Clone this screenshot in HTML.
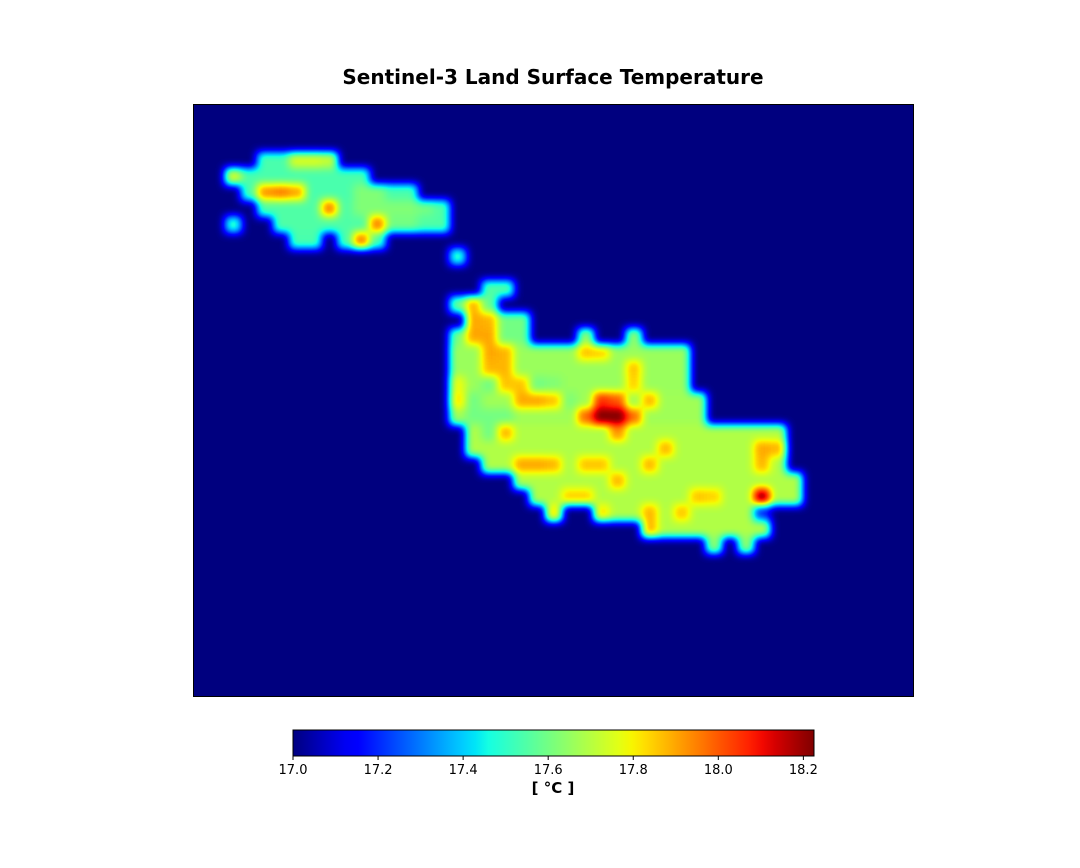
<!DOCTYPE html>
<html><head><meta charset="utf-8"><style>
body{margin:0;background:#fff;width:1080px;height:864px;overflow:hidden;font-family:"DejaVu Sans","Liberation Sans",sans-serif}
</style></head><body>
<svg id="chart" width="1080" height="864" font-family="DejaVu Sans, Liberation Sans, sans-serif">
<defs>
<filter id="jetf" x="0" y="0" width="1" height="1" color-interpolation-filters="sRGB">
<feGaussianBlur stdDeviation="4.2"/>
<feComponentTransfer id="ct"><feFuncR id="fr" type="table"/><feFuncG id="fg" type="table"/><feFuncB id="fb" type="table"/></feComponentTransfer>
</filter>
<clipPath id="pc"><rect x="193" y="104" width="721" height="593"/></clipPath>
<linearGradient id="cbg" x1="0" x2="1" y1="0" y2="0"></linearGradient>
</defs>
<text x="553" y="84" text-anchor="middle" font-size="20" font-weight="bold">Sentinel-3 Land Surface Temperature</text>
<rect x="193" y="104" width="721" height="593" fill="#000080"/>
<g clip-path="url(#pc)"><g id="heat" filter="url(#jetf)"></g></g>
<rect x="193.5" y="104.5" width="720" height="592" fill="none" stroke="#000" stroke-width="1"/>
<rect x="293" y="730" width="521" height="26" fill="url(#cbg)" stroke="#000" stroke-width="1"/>
<g id="cbticks"></g>
<text x="553" y="793" text-anchor="middle" font-size="15" font-weight="bold">[ °C ]</text>
</svg>
<script>
const vMin = 17.0, vMax = 18.225;
const nCols = 45, nRows = 37;
// land spans: [row, colStart, colEnd, value]
const landSpans = [
[3,4,8,17.54],[4,2,10,17.54],[5,3,13,17.54],[6,4,15,17.55],[7,5,15,17.55],[7,2,2,17.5],
[8,6,7,17.54],[8,9,11,17.54],[9,16,16,17.5],[11,18,19,17.55],
[12,16,18,17.58],[13,17,20,17.6],[14,16,20,17.6],[14,24,24,17.64],[14,27,27,17.64],
[15,16,30,17.66],[16,16,30,17.66],[17,17,30,17.66],[18,16,31,17.67],[19,16,31,17.67],
[20,17,36,17.69],[21,17,36,17.69],[22,18,36,17.69],[23,20,37,17.69],[24,21,37,17.69],
[25,22,22,17.64],[25,25,35,17.69],[26,28,35,17.69],[27,32,32,17.64],[27,34,34,17.64]
];
// hotspot cells: [row, col, value]
const hotspots = [
[3,6,17.75],[3,7,17.75],[3,8,17.72],[4,2,17.75],[5,4,17.92],[5,5,17.95],[5,6,17.9],
[6,8,17.95],[7,11,17.95],[8,10,17.95],
[5,10,17.62],[5,11,17.62],[6,10,17.62],[6,11,17.62],[6,12,17.62],[6,13,17.62],[6,14,17.6],[7,12,17.6],[7,13,17.6],
[12,17,17.88],[13,17,17.9],[13,18,17.88],[14,17,17.9],[14,18,17.9],[15,18,17.9],[15,19,17.88],[16,18,17.88],[16,19,17.88],
[17,19,17.86],[17,20,17.86],[18,20,17.9],[18,21,17.9],[18,22,17.86],
[18,16,17.82],[17,16,17.78],
[17,18,17.6],[17,21,17.6],[18,17,17.6],[19,17,17.6],[19,18,17.6],[19,19,17.6],[20,18,17.6],[18,23,17.62],[17,22,17.62],
[19,25,18.25],[19,26,18.25],[18,25,18.05],[18,26,18.0],[19,24,17.98],[19,27,17.98],[20,26,17.92],
[22,20,17.9],[22,21,17.9],[22,22,17.88],[21,35,17.9],[21,36,17.88],[22,35,17.88],
[24,35,18.2],[25,35,17.2],
[20,19,17.88],[18,28,17.88],[21,29,17.88],[22,28,17.88],[23,26,17.88],[22,24,17.86],[22,25,17.86],
[15,24,17.86],[15,25,17.84],[16,27,17.86],[17,27,17.84],[24,31,17.86],[24,32,17.84],[25,30,17.86],
[25,28,17.88],[26,28,17.88],[24,23,17.84],[24,24,17.84],[25,22,17.82],[25,25,17.82]
];
const tickVals = [17.0,17.2,17.4,17.6,17.8,18.0,18.2];

function jet(t){
  function seg(pts){for(let i=1;i<pts.length;i++){if(t<=pts[i][0]){const a=pts[i-1],b=pts[i];return a[1]+(b[1]-a[1])*(t-a[0])/(b[0]-a[0]);}}return pts[pts.length-1][1];}
  return [seg([[0,0],[0.35,0],[0.66,1],[0.89,1],[1,0.5]]),
          seg([[0,0],[0.125,0],[0.375,1],[0.64,1],[0.91,0],[1,0]]),
          seg([[0,0.5],[0.11,1],[0.34,1],[0.65,0],[1,0]])];
}
const NS='http://www.w3.org/2000/svg';
const px0=193, py0=104, cw=721/nCols, ch=593/nRows;
const xOf=c=>px0+c*cw, yOf=r=>py0+r*ch;
const norm=v=>Math.max(0,Math.min(1,(v-vMin)/(vMax-vMin)));
const R=[],G=[],B=[];
for(let i=0;i<=64;i++){const c=jet(i/64);R.push(c[0].toFixed(4));G.push(c[1].toFixed(4));B.push(c[2].toFixed(4));}
document.getElementById('fr').setAttribute('tableValues',R.join(' '));
document.getElementById('fg').setAttribute('tableValues',G.join(' '));
document.getElementById('fb').setAttribute('tableValues',B.join(' '));
const grid=[];for(let r=0;r<nRows;r++){grid.push(new Array(nCols).fill(vMin));}
landSpans.forEach(s=>{for(let c=s[1];c<=s[2];c++)grid[s[0]][c]=s[3];});
hotspots.forEach(h=>{grid[h[0]][h[1]]=h[2];});
const heat=document.getElementById('heat');
const bg=document.createElementNS(NS,'rect');
bg.setAttribute('x',px0-20);bg.setAttribute('y',py0-20);bg.setAttribute('width',761);bg.setAttribute('height',633);bg.setAttribute('fill','#000');


heat.appendChild(bg);
for(let r=0;r<nRows;r++)for(let c=0;c<nCols;c++){
  const v=grid[r][c]; if(v<=vMin) continue;
  const g=Math.round(norm(v)*255);
  const el=document.createElementNS(NS,'rect');
  el.setAttribute('x',xOf(c));el.setAttribute('y',yOf(r));
  el.setAttribute('width',cw+0.6);el.setAttribute('height',ch+0.6);
  el.setAttribute('fill','rgb('+g+','+g+','+g+')');
  
  
  heat.appendChild(el);
}
const grad=document.getElementById('cbg');
for(let i=0;i<=40;i++){const c=jet(i/40);const st=document.createElementNS(NS,'stop');
  st.setAttribute('offset',(i/40));st.setAttribute('stop-color','rgb('+c.map(x=>Math.round(x*255)).join(',')+')');grad.appendChild(st);}
const cbX=v=>293+(v-vMin)/(vMax-vMin)*521;
const tg=document.getElementById('cbticks');
tickVals.forEach(v=>{
  const x=cbX(v);
  const l=document.createElementNS(NS,'line');
  l.setAttribute('x1',x);l.setAttribute('x2',x);l.setAttribute('y1',756);l.setAttribute('y2',760);l.setAttribute('stroke','#000');
  
  
  tg.appendChild(l);
  const t=document.createElementNS(NS,'text');
  t.setAttribute('x',x);t.setAttribute('y',774);t.setAttribute('text-anchor','middle');t.setAttribute('font-size','13');
  t.textContent=v.toFixed(1);
  
  
  tg.appendChild(t);
});
</script>
</body></html>
